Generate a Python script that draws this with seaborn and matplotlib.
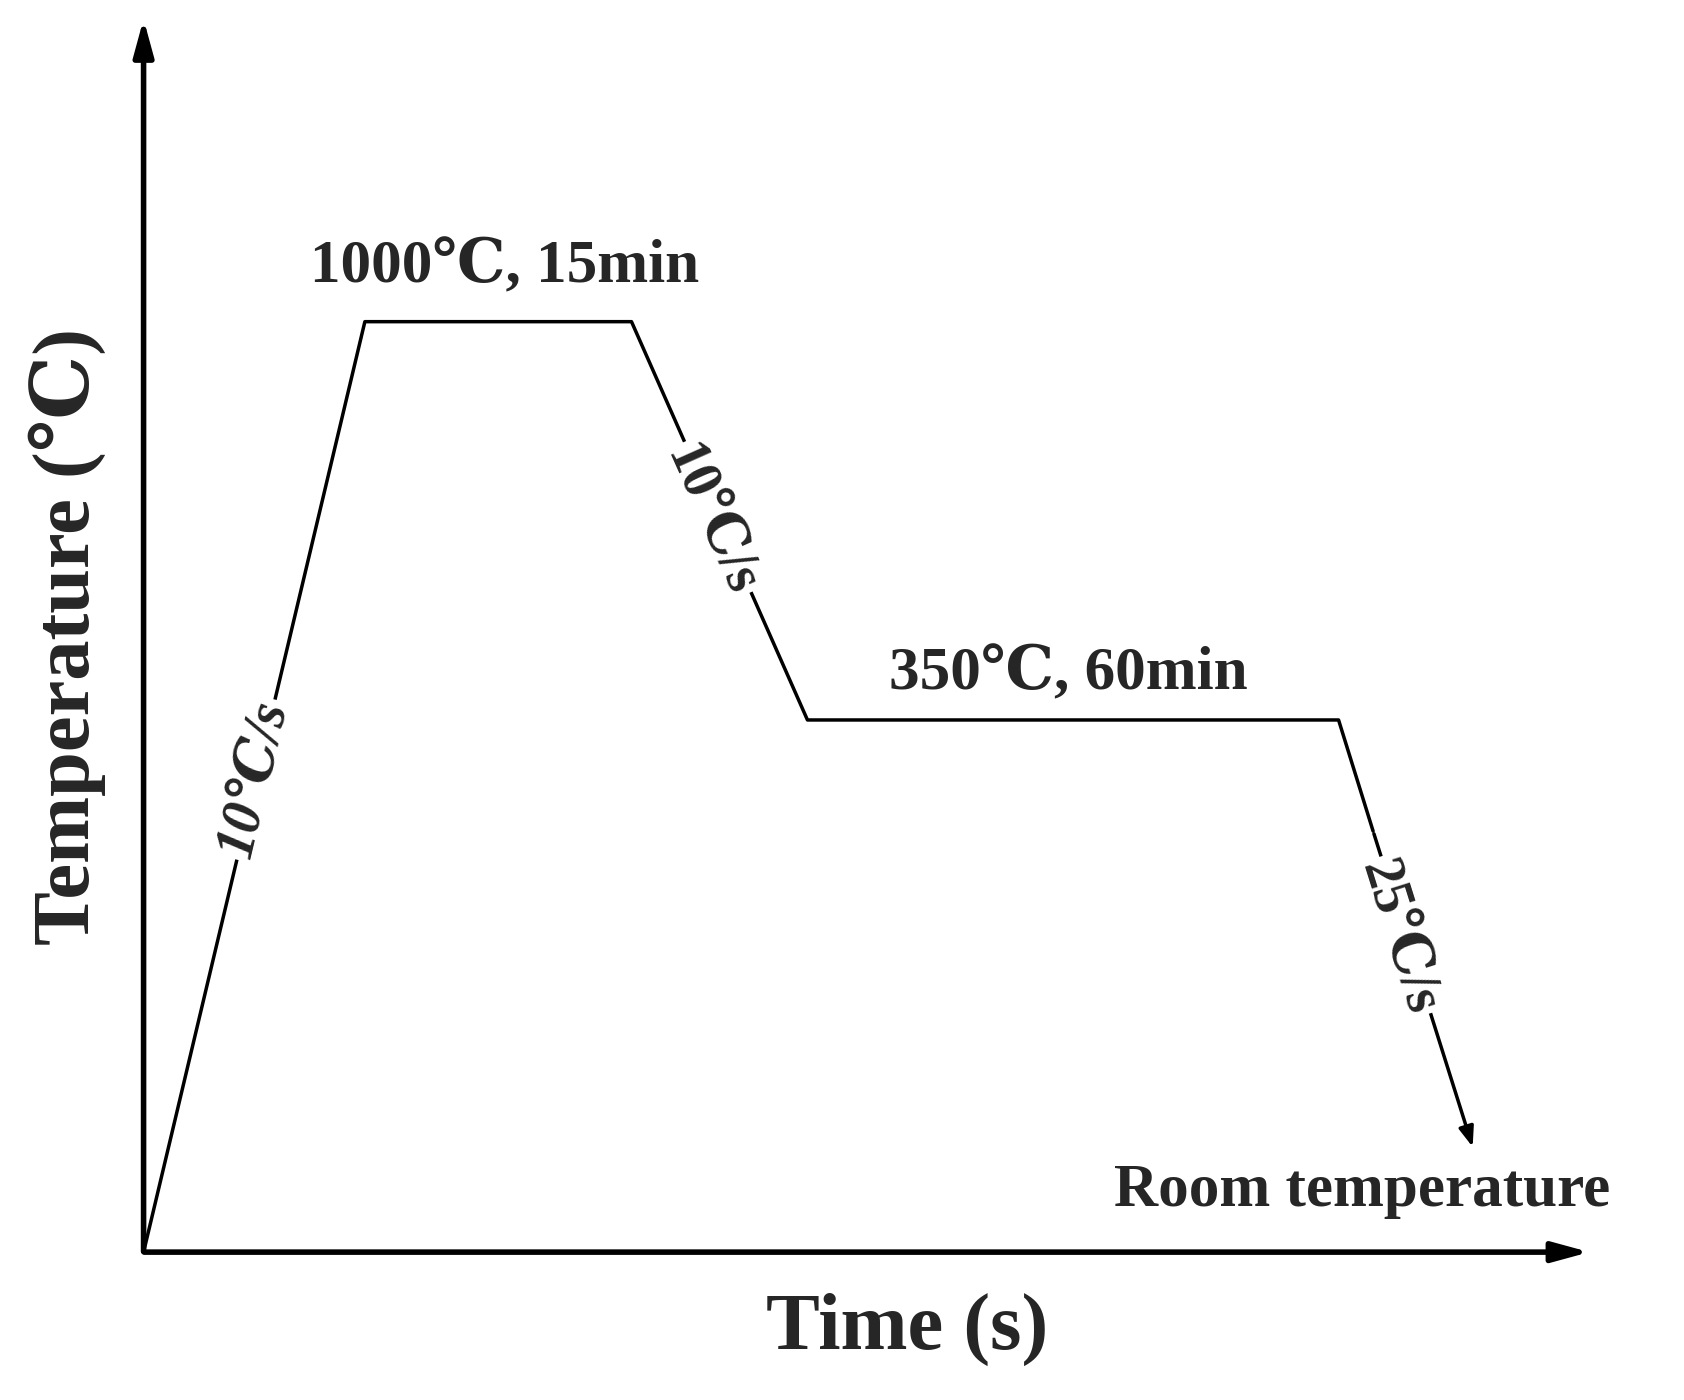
import numpy as np
import pandas as pd
import matplotlib.pyplot as plt
import seaborn as sns

sns.set_style("white")
plt.rcParams['font.family'] = ['Liberation Serif', 'DejaVu Serif']
plt.rcParams['font.weight'] = 'bold'

# schematic heat-treatment path (canvas units, y grows downward)
time_pt = [133, 338, 585, 748, 1240, 1272]
level_pt = [1160, 298, 298, 667, 667, 770]
arrow_start = (1272, 770)
arrow_end = (1365, 1065)

fig = plt.figure(figsize=(16.84, 14), dpi=100)
ax = fig.add_axes([0, 0, 1, 1])
ax.set_xlim(0, 1560)
ax.set_ylim(1297, 0)
ax.axis('off')

df = pd.DataFrame({'t': time_pt, 'T': level_pt})
sns.lineplot(data=df, x='t', y='T', sort=False, color='black', lw=2.5, ax=ax)
ax.annotate('', xy=arrow_end, xytext=arrow_start,
            arrowprops=dict(arrowstyle='-|>,head_length=1.2,head_width=0.45', color='black', lw=2.5))

# axes arrows
ax.annotate('', xy=(133, 15), xytext=(133, 1162),
            arrowprops=dict(arrowstyle='-|>,head_length=2.2,head_width=0.6', color='black', lw=4))
ax.annotate('', xy=(1475, 1160), xytext=(131, 1160),
            arrowprops=dict(arrowstyle='-|>,head_length=2.2,head_width=0.6', color='black', lw=4))

box = dict(facecolor='white', edgecolor='none', pad=2)
ax.text(840, 1232, 'Time (s)', fontsize=58, ha='center', va='center', fontweight='bold')
ax.text(62, 590, 'Temperature (℃)', fontsize=58, ha='center', va='center', rotation=90, fontweight='bold')
ax.text(467, 248, '1000℃, 15min', fontsize=44, ha='center', va='center', fontweight='bold')
ax.text(990, 625, '350℃, 60min', fontsize=44, ha='center', va='center', fontweight='bold')
ax.text(1262, 1103, 'Room temperature', fontsize=44, ha='center', va='center', fontweight='bold')
ax.text(236, 722, '10℃/s', fontsize=40, ha='center', va='center', rotation=76.6,
        fontweight='bold', style='italic', bbox=box)
ax.text(658, 482, '10℃/s', fontsize=40, ha='center', va='center', rotation=-66,
        fontweight='bold', bbox=box)
ax.text(1296, 868, '25℃/s', fontsize=40, ha='center', va='center', rotation=-72.6,
        fontweight='bold', bbox=box)

fig.savefig('out.png', dpi=100, facecolor='white')
